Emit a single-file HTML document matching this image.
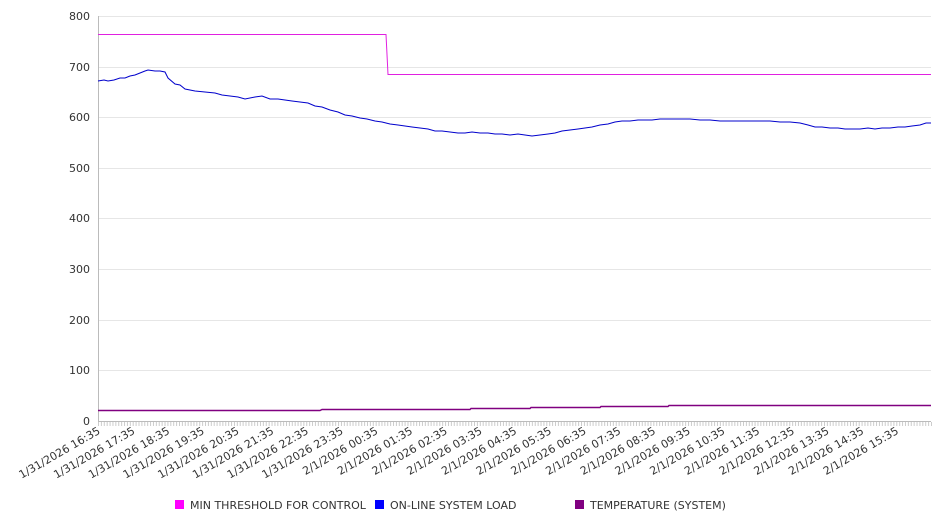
<!DOCTYPE html>
<html><head><style>
body{margin:0;background:#fff;width:946px;height:526px;overflow:hidden}
svg text{font-family:"DejaVu Sans","Liberation Sans",sans-serif;font-size:11px;fill:#333}
</style></head><body>
<svg width="946" height="526" xmlns="http://www.w3.org/2000/svg">
<g stroke="#e6e6e6" stroke-width="1">
<line x1="98" y1="16.5" x2="931" y2="16.5"/><line x1="98" y1="67.5" x2="931" y2="67.5"/>
<line x1="98" y1="117.5" x2="931" y2="117.5"/><line x1="98" y1="168.5" x2="931" y2="168.5"/>
<line x1="98" y1="218.5" x2="931" y2="218.5"/><line x1="98" y1="269.5" x2="931" y2="269.5"/>
<line x1="98" y1="320.5" x2="931" y2="320.5"/><line x1="98" y1="370.5" x2="931" y2="370.5"/>
</g>
<line x1="98.5" y1="16" x2="98.5" y2="421" stroke="#bbb"/>
<line x1="98" y1="421.5" x2="931" y2="421.5" stroke="#bbb"/>
<g id="ticks" stroke="#ccc"></g>
<g text-anchor="end">
<text x="90" y="20">800</text><text x="90" y="71">700</text><text x="90" y="121">600</text>
<text x="90" y="172">500</text><text x="90" y="222">400</text><text x="90" y="273">300</text>
<text x="90" y="324">200</text><text x="90" y="374">100</text><text x="90" y="425">0</text>
</g>
<g id="xl" text-anchor="end"></g>
<polyline fill="none" stroke="#e020e0" stroke-width="1" points="98,34.5 386,34.5 388,74.5 931,74.5"/>
<polyline fill="none" stroke="#0000cc" stroke-width="1" points="98,81 104,80 108,81 114,80 120,78 125,78 130,76 135,75 140,73 145,71 148,70 155,71 160,71 165,72 168,78 175,84 180,85 185,89 195,91 205,92 215,93 222,95 230,96 238,97 245,99 255,97 262,96 270,99 278,99 285,100 292,101 300,102 308,103 315,106 322,107 330,110 338,112 345,115 352,116 360,118 367,119 375,121 382,122 390,124 398,125 405,126 412,127 420,128 428,129 435,131 442,131 450,132 458,133 465,133 472,132 480,133 488,133 495,134 502,134 510,135 518,134 525,135 532,136 540,135 548,134 555,133 562,131 570,130 578,129 585,128 592,127 600,125 608,124 615,122 622,121 630,121 638,120 645,120 652,120 660,119 670,119 680,119 690,119 700,120 710,120 720,121 730,121 740,121 750,121 760,121 770,121 780,122 790,122 800,123 808,125 815,127 822,127 830,128 838,128 845,129 852,129 860,129 868,128 875,129 882,128 890,128 898,127 905,127 912,126 920,125 926,123 931,123"/>
<polyline fill="none" stroke="#800080" stroke-width="1.5" points="98,410.5 320,410.5 322,409.5 470,409.5 471,408.5 530,408.5 531,407.5 600,407.5 601,406.5 668,406.5 669,405.5 931,405.5"/>
<rect x="175" y="500" width="9" height="9" fill="#ff00ff"/><text x="190" y="509">MIN THRESHOLD FOR CONTROL</text>
<rect x="375" y="500" width="9" height="9" fill="#0000ff"/><text x="390" y="509">ON-LINE SYSTEM LOAD</text>
<rect x="575" y="500" width="9" height="9" fill="#800080"/><text x="590" y="509">TEMPERATURE (SYSTEM)</text>
</svg>
<script>
var ns="http://www.w3.org/2000/svg",t=document.getElementById("ticks"),xl=document.getElementById("xl");
for(var i=0;i<=288;i++){var x=98.5+i*833/288;var l=document.createElementNS(ns,"line");l.setAttribute("x1",x);l.setAttribute("x2",x);l.setAttribute("y1",422);l.setAttribute("y2",426);t.appendChild(l);}
for(var h=0;h<24;h++){var hr=(16+h)%24,d=(16+h)<24?"1/31/2026 ":"2/1/2026 ";var s=d+(hr<10?"0":"")+hr+":35";var x=101+h*833/24;var e=document.createElementNS(ns,"text");e.setAttribute("transform","translate("+x+",433) rotate(-30)");e.textContent=s;xl.appendChild(e);}
</script>
</body></html>
